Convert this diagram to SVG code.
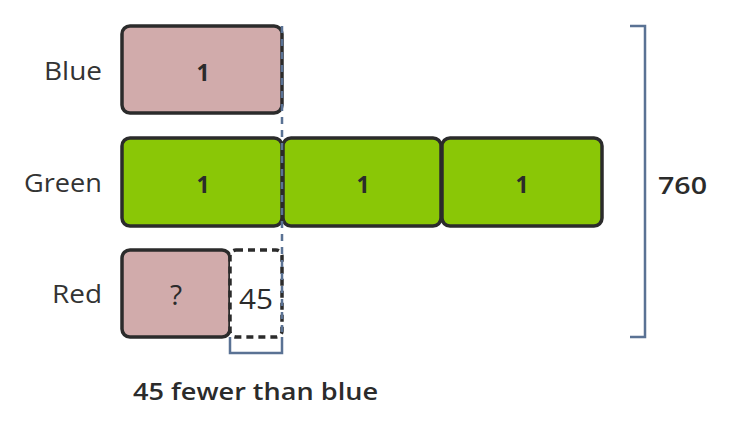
<svg xmlns="http://www.w3.org/2000/svg" width="731" height="428" viewBox="0 0 731 428">
<style>
.box{stroke:#2b2b2b;stroke-width:3.5}
.pink{fill:#d1abab}
.green{fill:#8ac706}
.lbl{font-family:"Open Sans",Lato,sans-serif;font-size:26px;fill:#333;text-anchor:end}
.num{font-family:"Open Sans",Lato,sans-serif;font-size:23px;font-weight:bold;fill:#2b2b2b;text-anchor:middle}
.q{font-family:"Open Sans",Lato,sans-serif;font-size:28px;font-weight:normal;fill:#2b2b2b;text-anchor:middle}
.txt{font-family:"Open Sans",Lato,sans-serif;font-size:24px;fill:#2b2b2b}
.big{font-size:27px}
.guide{stroke:#5a7294;stroke-width:2.5;fill:none}
</style>
<rect width="731" height="428" fill="#fff"/>
<g id="label-blue"><text class="lbl" x="102" y="80" textLength="58" lengthAdjust="spacingAndGlyphs">Blue</text></g>
<g id="label-green"><text class="lbl" x="102" y="192" textLength="78" lengthAdjust="spacingAndGlyphs">Green</text></g>
<g id="label-red"><text class="lbl" x="102" y="303" textLength="50" lengthAdjust="spacingAndGlyphs">Red</text></g>
<g id="blue-1"><rect class="box pink" x="122" y="26" width="160" height="87" rx="8"/><text class="num" x="203" y="81">1</text></g>
<g id="green-1"><rect class="box green" x="122" y="138" width="160" height="88" rx="8"/><text class="num" x="203" y="193">1</text></g>
<g id="green-2"><rect class="box green" x="283" y="138" width="158" height="88" rx="8"/><text class="num" x="363" y="193">1</text></g>
<g id="green-3"><rect class="box green" x="442" y="138" width="160" height="88" rx="8"/><text class="num" x="522" y="193">1</text></g>
<g id="red-q"><rect class="box pink" x="122" y="250" width="108" height="87" rx="8"/><text class="q" x="176" y="305">?</text></g>
<g id="red-45"><rect x="230" y="250" width="52" height="87" rx="6" fill="#fff" stroke="#2b2b2b" stroke-width="3.5" stroke-dasharray="7,5"/><text class="txt big" x="256" y="309" text-anchor="middle" font-weight="500" textLength="34" lengthAdjust="spacingAndGlyphs">45</text></g>
<g id="connectors">
<line class="guide" x1="282" y1="26" x2="282" y2="337" stroke-dasharray="7,6"/>
<polyline class="guide" points="230,337 230,353 282,353 282,337"/>
<polyline class="guide" points="630,26 645,26 645,337 630,337"/>
</g>
<g id="total"><text class="txt" x="658" y="194" font-weight="600" textLength="49" lengthAdjust="spacingAndGlyphs">760</text></g>
<g id="diff"><text class="txt" x="133" y="400" font-weight="600" textLength="245" lengthAdjust="spacingAndGlyphs">45 fewer than blue</text></g>
</svg>
